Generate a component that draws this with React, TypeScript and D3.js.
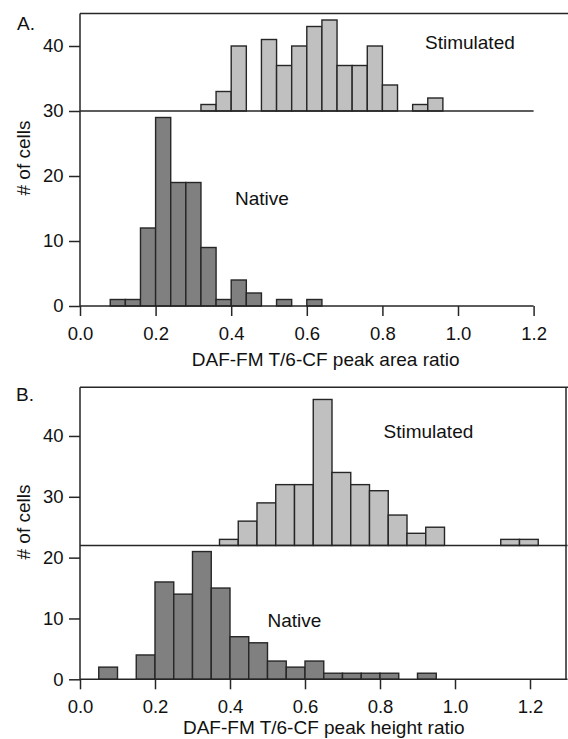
import React, { useRef, useEffect } from "react";
import * as d3 from "d3";

// bin left edges + counts
const areaBinWidth = 0.04;
const areaNativeX0 = [0.08, 0.12, 0.16, 0.2, 0.24, 0.28, 0.32, 0.36, 0.4, 0.44, 0.48, 0.52, 0.56, 0.6];
const areaNativeCounts = [1, 1, 12, 29, 19, 19, 9, 1, 4, 2, 0, 1, 0, 1];
const areaStimX0 = [0.32, 0.36, 0.4, 0.44, 0.48, 0.52, 0.56, 0.6, 0.64, 0.68, 0.72, 0.76, 0.8, 0.84, 0.88, 0.92];
const areaStimCounts = [1, 3, 10, 0, 11, 7, 10, 13, 14, 7, 7, 10, 4, 0, 1, 2];
const areaStimOffset = 30;

const heightBinWidth = 0.05;
const heightNativeX0 = [0.05, 0.1, 0.15, 0.2, 0.25, 0.3, 0.35, 0.4, 0.45, 0.5, 0.55, 0.6, 0.65, 0.7, 0.75, 0.8, 0.85, 0.9];
const heightNativeCounts = [2, 0, 4, 16, 14, 21, 15, 7, 6, 3, 2, 3, 1, 1, 1, 1, 0, 1];
const heightStimX0 = [0.372, 0.422, 0.472, 0.522, 0.572, 0.622, 0.672, 0.722, 0.772, 0.822, 0.872, 0.922, 0.972, 1.022, 1.072, 1.122, 1.172];
const heightStimCounts = [1, 4, 7, 10, 10, 24, 12, 10, 9, 5, 2, 3, 0, 0, 0, 1, 1];
const heightStimOffset = 22;

const xTicks = [0, 0.2, 0.4, 0.6, 0.8, 1.0, 1.2];
const yTicks = [0, 10, 20, 30, 40];

const FONT = "'Liberation Sans', Arial, sans-serif";

const App = () => {
  const svgRef = useRef<SVGSVGElement>(null);

  useEffect(() => {
    const svg = d3.select(svgRef.current);
    svg.selectAll("*").remove();

    const panels = [
      {
        letter: "A.", top: 13.5, bottom: 306, xRight: 571.4, yMax: 45,
        binW: areaBinWidth,
        nativeX0: areaNativeX0, nativeN: areaNativeCounts,
        stimX0: areaStimX0, stimN: areaStimCounts, offset: areaStimOffset,
        axisEnd: 1.2, stimEnd: 1.2, rightFrame: false,
        title: "DAF-FM T/6-CF peak area ratio", titleDy: 60,
        stimLabel: [425, 49], nativeLabel: [235, 205], letterPos: [17, 30], ylabelY: 158,
      },
      {
        letter: "B.", top: 387.3, bottom: 679.3, xRight: 567.5, yMax: 48,
        binW: heightBinWidth,
        nativeX0: heightNativeX0, nativeN: heightNativeCounts,
        stimX0: heightStimX0, stimN: heightStimCounts, offset: heightStimOffset,
        axisEnd: 1.3, stimEnd: 1.3, rightFrame: true,
        title: "DAF-FM T/6-CF peak height ratio", titleDy: 54.5,
        stimLabel: [383.5, 437.5], nativeLabel: [267.5, 626.5], letterPos: [16, 401], ylabelY: 522,
      },
    ];

    panels.forEach((p) => {
      const x = d3.scaleLinear().domain([0, 1.3]).range([80, p.xRight]);
      const y = d3.scaleLinear().domain([0, p.yMax]).range([p.bottom, p.top]);
      const g = svg.append("g");

      const drawBars = (x0s: number[], ns: number[], base: number, fill: string) => {
        g.append("g")
          .selectAll("rect")
          .data(x0s.map((v, i) => ({ x0: v, n: ns[i] })).filter((d) => d.n > 0))
          .enter()
          .append("rect")
          .attr("x", (d) => x(d.x0))
          .attr("width", (d) => x(d.x0 + p.binW) - x(d.x0))
          .attr("y", (d) => y(base + d.n))
          .attr("height", (d) => y(base) - y(base + d.n))
          .attr("fill", fill)
          .attr("stroke", "#262626")
          .attr("stroke-width", 1.4);
      };

      drawBars(p.stimX0, p.stimN, p.offset, "#c0c0c0");
      // stimulated baseline
      g.append("line")
        .attr("x1", x(0)).attr("x2", x(p.stimEnd))
        .attr("y1", y(p.offset)).attr("y2", y(p.offset))
        .attr("stroke", "#262626").attr("stroke-width", 1.4);

      drawBars(p.nativeX0, p.nativeN, 0, "#808080");

      // frame: left, top, (right), bottom
      const frame = g.append("g").attr("stroke", "#262626").attr("stroke-width", 1.5).attr("fill", "none");
      frame.append("line").attr("x1", x(0)).attr("x2", x(0)).attr("y1", y(0)).attr("y2", p.top);
      frame.append("line").attr("x1", x(0)).attr("x2", 570).attr("y1", p.top).attr("y2", p.top);
      if (p.rightFrame) {
        frame.append("line").attr("x1", p.xRight - 1.5).attr("x2", p.xRight - 1.5).attr("y1", p.top).attr("y2", y(0));
      }
      frame.append("line").attr("x1", x(0)).attr("x2", x(p.axisEnd)).attr("y1", y(0)).attr("y2", y(0));

      const xAxis = g.append("g")
        .attr("transform", `translate(0,${y(0)})`)
        .call(d3.axisBottom(x).tickValues(xTicks).tickFormat(d3.format(".1f")).tickSize(10).tickPadding(10.5));
      const yAxis = g.append("g")
        .attr("transform", `translate(${x(0)},0)`)
        .call(d3.axisLeft(y).tickValues(yTicks).tickSize(11).tickPadding(5.5));

      [xAxis, yAxis].forEach((a) => {
        a.select(".domain").remove();
        a.selectAll("line").attr("stroke", "#262626").attr("stroke-width", 1.5);
        a.selectAll("text").attr("font-family", FONT).attr("font-size", 18.5).attr("fill", "#111");
      });

      const label = (t: string, tx: number, ty: number, anchor = "start") =>
        g.append("text")
          .attr("x", tx).attr("y", ty)
          .attr("text-anchor", anchor)
          .attr("font-family", FONT)
          .attr("font-size", 19)
          .attr("fill", "#111")
          .text(t);

      label(p.letter, p.letterPos[0], p.letterPos[1]);
      label("Stimulated", p.stimLabel[0], p.stimLabel[1]);
      label("Native", p.nativeLabel[0], p.nativeLabel[1]);
      label(p.title, x(0.65), y(0) + p.titleDy, "middle");
      label("# of cells", 0, 0, "middle").attr("transform", `translate(30,${p.ylabelY}) rotate(-90)`);
    });
  }, []);

  return (
    <svg
      ref={svgRef}
      width={568}
      height={739}
      style={{ position: "absolute", left: 0, top: 0, background: "#fff" }}
    />
  );
};

export default App;
